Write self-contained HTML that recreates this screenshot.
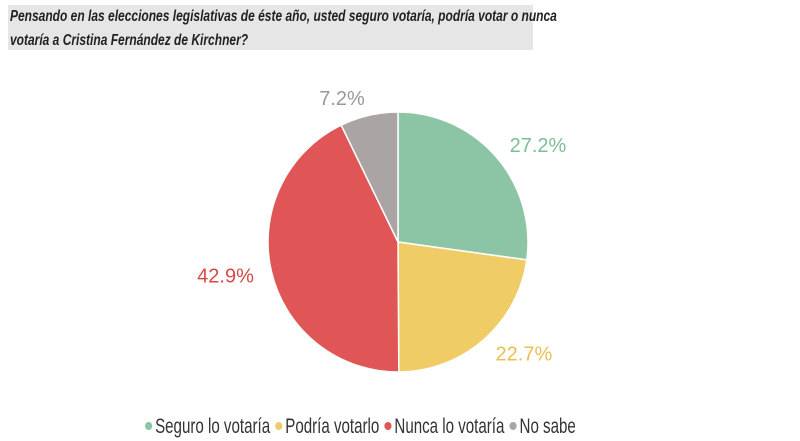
<!DOCTYPE html>
<html><head><meta charset="utf-8"><style>
body{margin:0;width:800px;height:441px;background:#fff;overflow:hidden;font-family:"Liberation Sans",sans-serif}
#tb{position:absolute;left:8px;top:5px;width:525px;height:45px;background:#e6e6e6}
#tt{position:absolute;left:10px;top:5px;font-size:16px;font-weight:bold;font-style:italic;line-height:24px;color:#222;transform:scaleX(0.75);transform-origin:0 0;white-space:nowrap}
svg{position:absolute;left:0;top:0}
</style></head><body>
<div id="tb"></div>
<div id="tt">Pensando en las elecciones legislativas de éste año, usted seguro votaría, podría votar o nunca<br>votaría a Cristina Fernández de Kirchner?</div>
<svg id="c" width="800" height="441"></svg>
<script>
const categories=["Seguro lo votaría","Podría votarlo","Nunca lo votaría","No sabe"];
const values=[27.2,22.7,42.9,7.2];
const labels=["27.2%","22.7%","42.9%","7.2%"];
const colors=["#8cc5a5","#f0cc66","#e05555","#aba4a4"];
const textColors=["#7dbd98","#e8c050","#d94848","#999"];
const ns="http://www.w3.org/2000/svg",svg=document.getElementById('c');
const cx=398,cy=242,r=130;
const total=values.reduce((a,b)=>a+b,0);
function pt(a,rr){return[cx+rr*Math.sin(a),cy-rr*Math.cos(a)];}
let acc=0;
values.forEach((v,i)=>{
 const a0=acc/total*2*Math.PI;acc+=v;const a1=acc/total*2*Math.PI;
 const p0=pt(a0,r),p1=pt(a1,r);
 const p=document.createElementNS(ns,'path');
 p.setAttribute('d',`M${cx},${cy}L${p0[0]},${p0[1]}A${r},${r} 0 ${a1-a0>Math.PI?1:0} 1 ${p1[0]},${p1[1]}Z`);
 p.setAttribute('fill',colors[i]);p.setAttribute('stroke','#fff');p.setAttribute('stroke-width','1.5');
 
 
 svg.appendChild(p);
 const m=(a0+a1)/2,q=pt(m,r+18);
 const t=document.createElementNS(ns,'text');
 t.setAttribute('x',q[0]);t.setAttribute('y',q[1]+7);
 t.setAttribute('text-anchor',Math.sin(m)>0.1?'start':(Math.sin(m)<-0.1?'end':'middle'));
 t.setAttribute('font-size','20');t.setAttribute('fill',textColors[i]);
 t.textContent=labels[i];
 
 
 svg.appendChild(t);
});
const g=document.createElementNS(ns,'g');
g.setAttribute('transform','translate(145,0) scale(0.72,1)');


svg.appendChild(g);
let x=0;
categories.forEach((c,i)=>{
 const d=document.createElementNS(ns,'ellipse');
 d.setAttribute('cx',x+5);d.setAttribute('cy',426);d.setAttribute('rx',5);d.setAttribute('ry',4);d.setAttribute('fill',colors[i]);
 
 
 g.appendChild(d);
 const t=document.createElementNS(ns,'text');
 t.setAttribute('x',x+14);t.setAttribute('y',433);t.setAttribute('font-size','21');t.setAttribute('fill','#333');
 t.textContent=c;
 
 
 g.appendChild(t);
 x+=14+t.getComputedTextLength()+7;
});
</script>
</body></html>
